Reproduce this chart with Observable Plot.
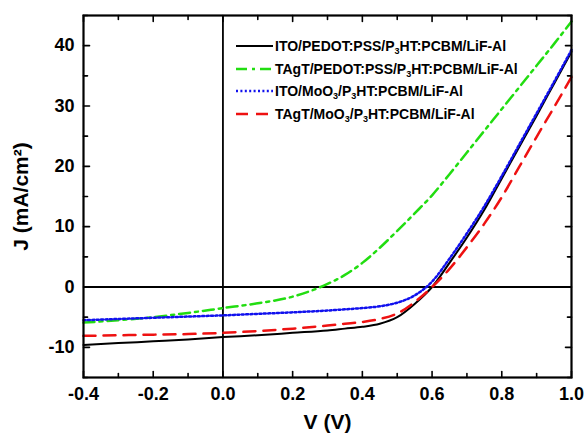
<!DOCTYPE html>
<html><head><meta charset="utf-8">
<script src="https://cdn.jsdelivr.net/npm/d3@7"></script>
<script src="https://cdn.jsdelivr.net/npm/@observablehq/plot@0.6"></script>
<style>
body{margin:0;background:#fff;}
#wrap{position:relative;width:585px;height:437px;font-family:"Liberation Sans",Arial,sans-serif;}
#legend{position:absolute;left:236px;top:35px;font-weight:bold;font-size:14px;color:#000;}
#legend .row{display:flex;align-items:center;height:22.6px;white-space:nowrap;}
#legend svg{width:37px;height:10px;margin-right:2px;}
#legend sub{font-size:9px;vertical-align:-3px;line-height:0;}
</style></head><body><div id="wrap"></div>
<script>
const voltage = [-0.4,-0.3,-0.2,-0.1,0,0.1,0.2,0.3,0.35,0.4,0.45,0.5,0.55,0.6,0.65,0.7,0.75,0.8,0.85,0.9,0.95,1.0];
const jItoPedot  = [-9.6,-9.3,-9.0,-8.7,-8.3,-8.0,-7.6,-7.2,-6.9,-6.6,-6.1,-5.0,-2.8,0,4.0,8.2,12.8,18.0,23.2,28.4,33.7,39.0];
const jTagtPedot = [-5.9,-5.5,-5.0,-4.3,-3.5,-2.7,-1.6,0.5,2.0,4.0,6.5,9.3,12.2,15.2,18.7,22.3,25.9,29.5,33.1,36.7,40.3,44.0];
const jItoMoo3   = [-5.5,-5.3,-5.1,-4.9,-4.7,-4.45,-4.2,-3.9,-3.7,-3.5,-3.2,-2.6,-1.4,0.9,4.7,8.9,13.4,18.4,23.6,28.8,34.0,39.3];
const jTagtMoo3  = [-8.1,-8.0,-7.9,-7.8,-7.6,-7.3,-6.9,-6.4,-6.1,-5.8,-5.3,-4.4,-2.5,0,3.0,6.6,10.5,14.9,19.9,24.9,29.8,34.8];

const seriesNames = ["ITO/PEDOT:PSS/P<sub>3</sub>HT:PCBM/LiF-Al","TAgT/PEDOT:PSS/P<sub>3</sub>HT:PCBM/LiF-Al","ITO/MoO<sub>3</sub>/P<sub>3</sub>HT:PCBM/LiF-Al","TAgT/MoO<sub>3</sub>/P<sub>3</sub>HT:PCBM/LiF-Al"];
const seriesColors = ["#000000","#22dd11","#1111ee","#ee1111"];
const seriesDash = [null,"11,5,3,5","2,2.4","12,8"];
const seriesWidth = [2,2.5,2.5,2.5];
const seriesValues = [jItoPedot,jTagtPedot,jItoMoo3,jTagtMoo3];

const xMajor = [-0.4,-0.2,0,0.2,0.4,0.6,0.8,1.0];
const xMinor = [-0.3,-0.1,0.1,0.3,0.5,0.7,0.9];
const yMajor = [-10,0,10,20,30,40];
const yMinor = [-15,-5,5,15,25,35,45];

const tickShape = {draw(ctx,l){ctx.moveTo(0,0);ctx.lineTo(0,-l);}};
function ticks(data, ch, anchor, rotate, len){
  const o = {frameAnchor:anchor, rotate, length:len, anchor:"start", shape:tickShape, stroke:"#000", strokeWidth:1.6};
  o[ch] = d=>d;
  return Plot.vector(data, o);
}

const lineMarks = seriesValues.map((vals,i)=>Plot.line(voltage.map((v,k)=>({v, j:vals[k]})), {
  x:"v", y:"j", curve:"monotone-x", stroke:seriesColors[i], strokeWidth:seriesWidth[i],
  strokeDasharray: seriesDash[i] || undefined
}));

const chart = Plot.plot({
  width:585, height:437,
  marginLeft:83, marginRight:14, marginTop:15, marginBottom:60,
  style:{fontFamily:"'Liberation Sans', Arial, sans-serif", background:"#fff"},
  x:{domain:[-0.4,1.0]},
  y:{domain:[-15,45]},
  marks:[
    Plot.ruleY([0],{stroke:"#000",strokeWidth:1.8}),
    Plot.ruleX([0],{stroke:"#000",strokeWidth:1.8}),
    ...lineMarks,
    Plot.axisX(xMajor,{tickSize:0, tickPadding:10, fontSize:18, fontWeight:"bold", tickFormat:d=>d.toFixed(1),
      label:null}),
    Plot.axisX({tickSize:0, ticks:[], label:"V (V)", labelAnchor:"center", labelOffset:51, labelArrow:"none", fontSize:21, fontWeight:"bold"}),
    Plot.axisY(yMajor,{tickSize:0, tickPadding:9, fontSize:18, fontWeight:"bold", tickFormat:d=>String(d),
      label:null}),
    Plot.axisY({tickSize:0, ticks:[], label:"J (mA/cm²)", labelAnchor:"center", labelOffset:70, labelArrow:"none", fontSize:21, fontWeight:"bold"}),
    ticks(xMajor,"x","bottom",0,6), ticks(xMinor,"x","bottom",0,4),
    ticks(xMajor,"x","top",180,6), ticks(xMinor,"x","top",180,4),
    ticks(yMajor,"y","left",90,6), ticks(yMinor,"y","left",90,4),
    ticks(yMajor,"y","right",-90,6), ticks(yMinor,"y","right",-90,4),
    Plot.frame({stroke:"#000",strokeWidth:2.2})
  ]
});
const wrap = document.getElementById("wrap");
wrap.appendChild(chart);

const legend = document.createElement("div");
legend.id = "legend";
legend.innerHTML = seriesNames.map((n,i)=>`<div class="row"><svg viewBox="0 0 37 10"><line x1="0" y1="5" x2="37" y2="5" stroke="${seriesColors[i]}" stroke-width="${seriesWidth[i]}" ${seriesDash[i]?`stroke-dasharray="${seriesDash[i]}"`:""}/></svg><span>${n}</span></div>`).join("");
wrap.appendChild(legend);
</script>
</body></html>
